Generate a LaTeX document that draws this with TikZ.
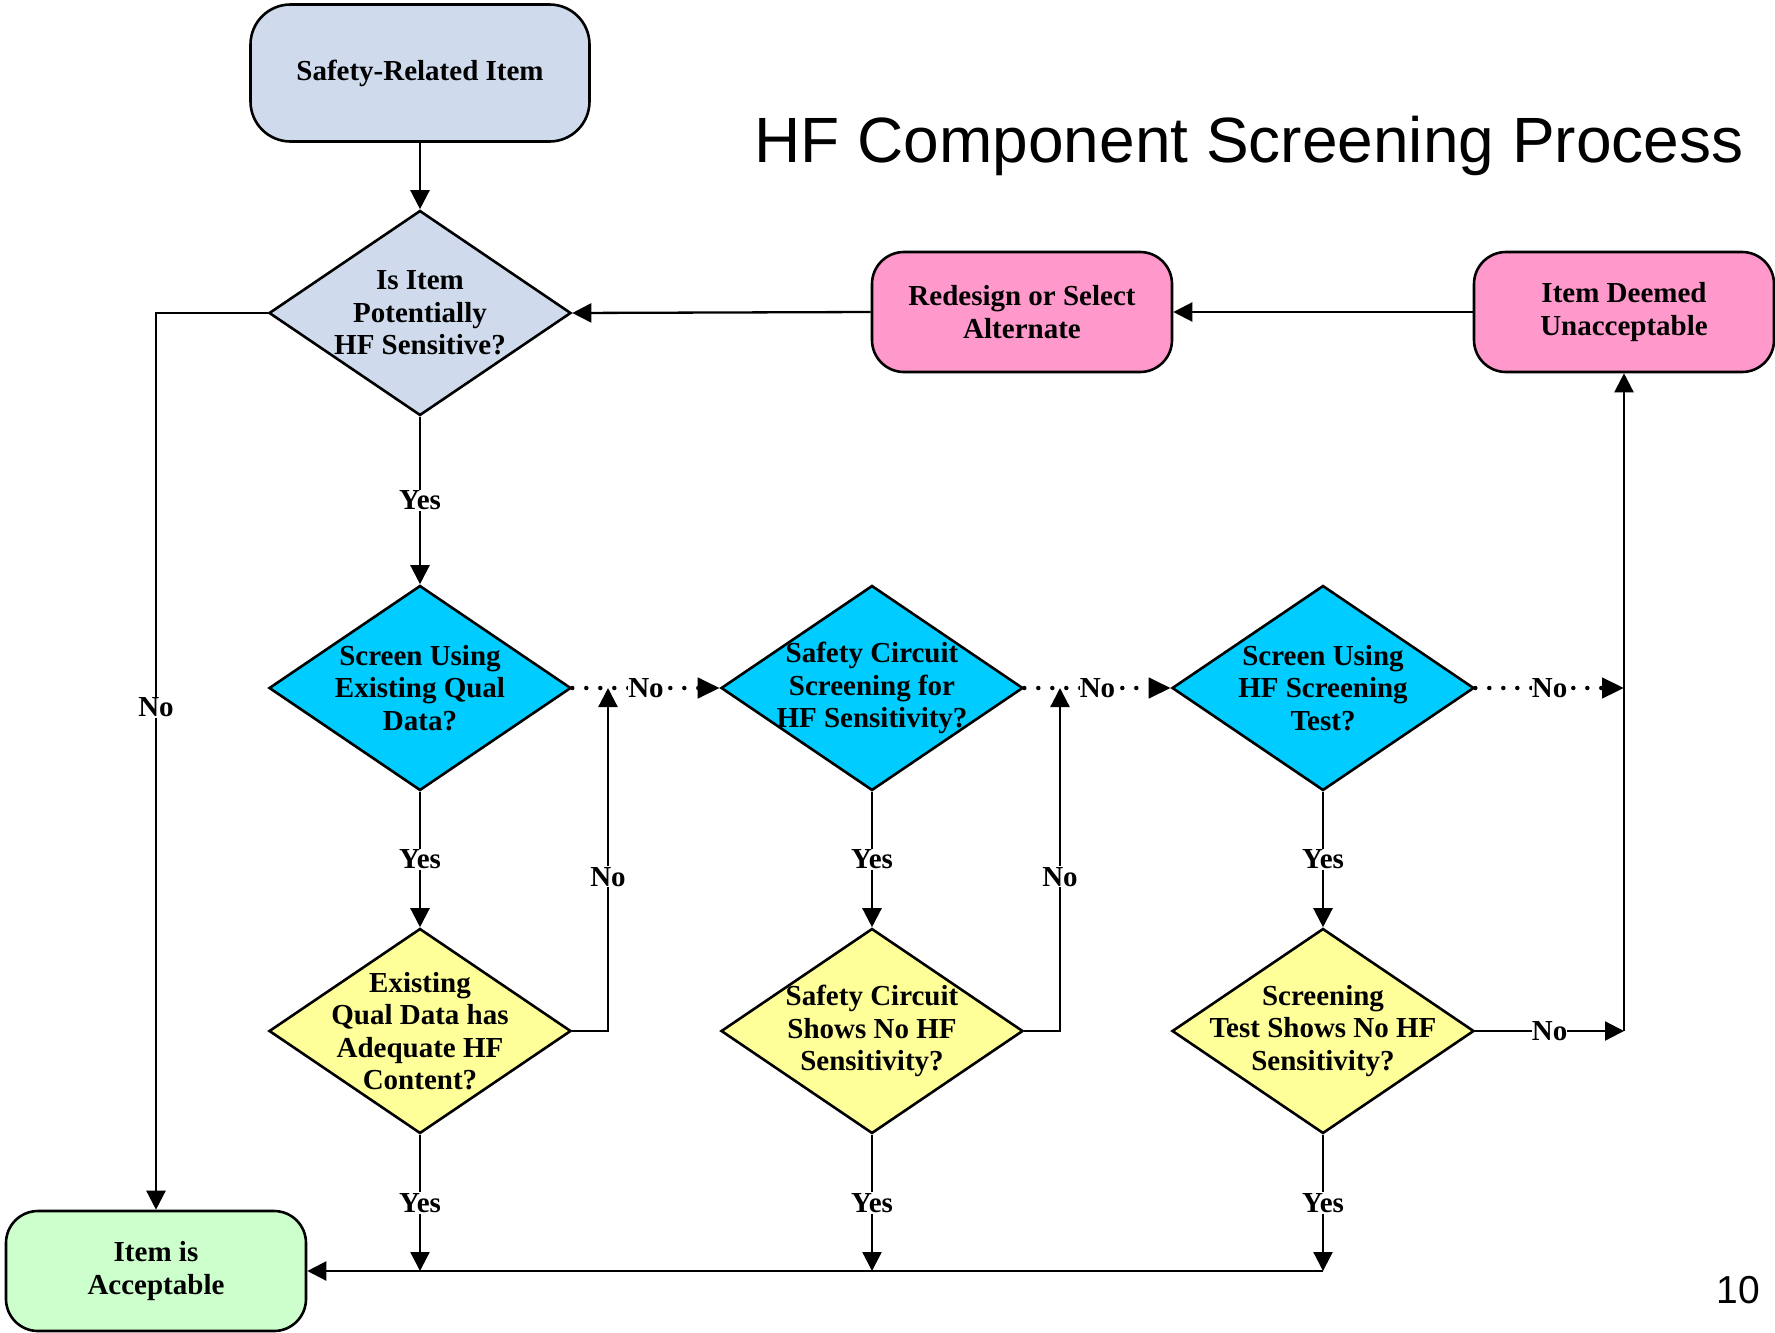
\documentclass[tikz,border=0pt]{standalone}
\usepackage{fontspec}
\setmainfont{Liberation Serif}
\newfontfamily\titlefont{Liberation Sans}
\usetikzlibrary{shapes.geometric,arrows.meta}
\definecolor{topblue}{RGB}{207,219,236}
\definecolor{pinkc}{RGB}{255,153,204}
\definecolor{cyanc}{RGB}{0,204,255}
\definecolor{yel}{RGB}{255,255,153}
\definecolor{grn}{RGB}{204,255,204}
\begin{document}
\begin{tikzpicture}[x=1pt,y=-1pt,
  every node/.style={font=\bfseries\fontsize{29}{32.3}\selectfont},
  box/.style={draw, line width=2.6pt, rounded corners=32pt, minimum width=300pt, minimum height=120pt, align=center},
  dia/.style={draw, diamond, line width=2.6pt, inner sep=0pt, minimum width=302pt, minimum height=205pt},
  txt/.style={align=center, inner sep=0pt},
  arr/.style={line width=2.3pt, -{Triangle[length=19pt,width=19pt]}},
  dotarr/.style={line width=4.5pt, line cap=round, dash pattern=on 0pt off 14pt, -{Triangle[length=22pt,width=20pt]}},
  lbl/.style={fill=white, inner sep=1pt},
  dlbl/.style={fill=white, inner sep=0pt},
]
\fill[white] (0,0) rectangle (1775,1333);
\useasboundingbox (0,0) rectangle (1775,1333);

% nodes
\node[box, fill=topblue, minimum width=339pt, minimum height=137pt, rounded corners=40pt] (top) at (420,73) {Safety-Related Item};
\node[dia, fill=topblue] (d1) at (420,313) {};
\node[txt] (d1t) at (d1) {Is Item\\Potentially\\HF Sensitive?};
\node[box, fill=pinkc] (red) at (1022,312) {Redesign or Select\\Alternate};
\node[box, fill=pinkc] (una) at (1624,312) {Item Deemed\\Unacceptable};
\node[box, fill=grn] (acc) at (156,1271) {Item is\\Acceptable};

\node[dia, fill=cyanc] (s1) at (420,688) {};
\node[txt] (s1t) at (s1) {Screen Using\\Existing Qual\\Data?};
\node[dia, fill=cyanc] (s2) at (872,688) {};
\node[txt] (s2t) at (s2) {Safety Circuit\\Screening for\\HF Sensitivity?};
\node[dia, fill=cyanc] (s3) at (1323,688) {};
\node[txt] (s3t) at (s3) {Screen Using\\HF Screening\\Test?};

\node[dia, fill=yel] (q1) at (420,1031) {};
\node[txt] (q1t) at (q1) {Existing\\Qual Data has\\Adequate HF\\Content?};
\node[dia, fill=yel] (q2) at (872,1031) {};
\node[txt] (q2t) at (q2) {Safety Circuit\\Shows No HF\\Sensitivity?};
\node[dia, fill=yel] (q3) at (1323,1031) {};
\node[txt] (q3t) at (q3) {Screening\\Test Shows No HF\\Sensitivity?};

\node[font=\titlefont\fontsize{64}{70}\selectfont, anchor=base] (title) at (1249,162) {HF Component Screening Process};
\node[font=\titlefont\fontsize{39}{44}\selectfont, anchor=base] (pg) at (1738,1303) {10};

% junctions
\coordinate (j1) at (608,688);
\coordinate (j2) at (1060,688);
\coordinate (j3) at (1624,688);
\coordinate (j4) at (1624,1031);
\coordinate (b1) at (420,1271);
\coordinate (b2) at (872,1271);
\coordinate (b3) at (1323,1271);

% connectors
\draw[arr] (top.south) -- (d1.north);
\draw[arr] (d1.west) -| node[lbl, pos=0.72]{No} (acc.north);
\draw[arr] (d1.south) -- node[lbl]{Yes} (s1.north);
\draw[arr] (una.west) -- (red.east);
\draw[arr] (red.west) -- (d1.east);

\draw[dotarr] (s1.east) -- node[dlbl]{No} (s2.west);
\draw[dotarr] (s2.east) -- node[dlbl]{No} (s3.west);
\draw[dotarr] (s3.east) -- node[dlbl]{No} (j3);

\draw[arr] (s1.south) -- node[lbl]{Yes} (q1.north);
\draw[arr] (s2.south) -- node[lbl]{Yes} (q2.north);
\draw[arr] (s3.south) -- node[lbl]{Yes} (q3.north);

\draw[arr] (q1.east) -| node[lbl, pos=0.725]{No} (j1);
\draw[arr] (q2.east) -| node[lbl, pos=0.725]{No} (j2);
\draw[arr] (q3.east) -- node[dlbl]{No} (j4);
\draw[arr] (j4) -- (una.south);

\draw[arr] (q1.south) -- node[lbl]{Yes} (b1);
\draw[arr] (q2.south) -- node[lbl]{Yes} (b2);
\draw[arr] (q3.south) -- node[lbl]{Yes} (b3);
\draw[arr] (b3) -- (acc.east);
\end{tikzpicture}
\end{document}
